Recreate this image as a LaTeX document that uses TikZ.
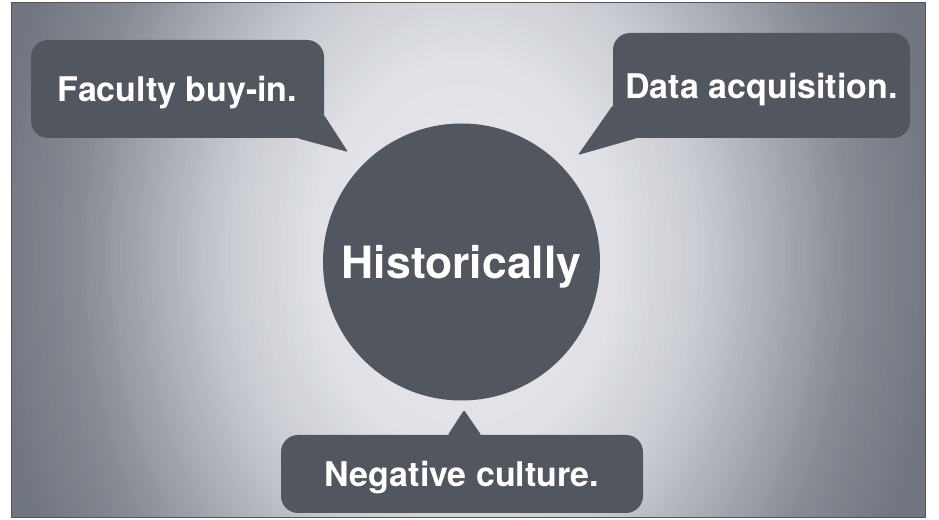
\documentclass[tikz,border=0pt]{standalone}
\usepackage{fontspec}
\setmainfont{TeX Gyre Heros}
\definecolor{bubblegray}{RGB}{82,86,94}
\definecolor{framegray}{RGB}{85,85,88}
\definecolor{bgA}{RGB}{233,234,238}
\definecolor{bgB}{RGB}{224,226,231}
\definecolor{bgC}{RGB}{200,203,209}
\definecolor{bgD}{RGB}{170,173,180}
\definecolor{bgE}{RGB}{134,138,147}
\definecolor{bgF}{RGB}{114,119,129}
\definecolor{bgG}{RGB}{102,107,117}
\tikzset{
  bubble/.style={draw=none,fill=bubblegray,rounded corners=17bp,inner sep=0pt,
    text=white,text depth=0pt,font=\fontsize{34bp}{40bp}\selectfont\bfseries},
  hub/.style={circle,draw=none,fill=bubblegray,inner sep=0pt,minimum size=277bp,
    text=white,text depth=0pt,font=\fontsize{44.5bp}{50bp}\selectfont\bfseries},
  tail/.style={fill=bubblegray,rounded corners=1.5bp},
}
\begin{document}
\begin{tikzpicture}[>=latex,line join=bevel,]
\useasboundingbox (0bp,0bp) rectangle (939bp,520bp);
%% background
\coordinate (glow) at (465bp,265bp);
\begin{scope}
  \clip (11bp,2bp) rectangle (925bp,517bp);
  \foreach \ra/\rb/\ca/\cb in {470/650/bgF/bgG,390/470/bgE/bgF,310/390/bgD/bgE,240/310/bgC/bgD,150/240/bgB/bgC,0/150/bgA/bgB}{
    \foreach \k in {16,...,1}{
      \pgfmathsetmacro\r{\ra+(\rb-\ra)*\k/16}
      \pgfmathtruncatemacro\p{\k*100/16}
      \fill [\cb!\p!\ca] (glow) ellipse ({\r bp} and {1.3*\r bp});
    }
  }
\end{scope}
\draw [framegray,line width=1bp] (11bp,2bp) rectangle (925bp,517bp);
%%
\node (node_hist) at (461.5bp,258bp) [hub] {Historically};
  \node (node_faculty) at (177.5bp,431bp) [bubble,minimum width=293bp,minimum height=98bp] {Faculty buy-in.};
  \node (node_data) at (761.5bp,434.5bp) [bubble,minimum width=297bp,minimum height=105bp] {Data acquisition.};
  \node (node_neg) at (462bp,46bp) [bubble,minimum width=362bp,minimum height=78bp] {Negative culture.};
%
\coordinate (tip_faculty) at (348bp,368bp);
  \coordinate (tip_data) at (578bp,365bp);
  \coordinate (tip_neg) at (464bp,110bp);
  \fill [tail] ([yshift=23bp]node_faculty.south east) -- (tip_faculty) -- ([xshift=-27bp]node_faculty.south east) -- ([shift={(-14bp,18bp)}]node_faculty.south east) -- cycle;
  \fill [tail] ([yshift=33bp]node_data.south west) -- (tip_data) -- ([xshift=24bp]node_data.south west) -- ([shift={(12bp,18bp)}]node_data.south west) -- cycle;
  \fill [tail] ([shift={(-14bp,-5bp)}]node_neg.north) -- ([xshift=-14bp]node_neg.north) -- (tip_neg) -- ([xshift=19bp]node_neg.north) -- ([shift={(19bp,-5bp)}]node_neg.north) -- cycle;
%
\end{tikzpicture}
\end{document}
